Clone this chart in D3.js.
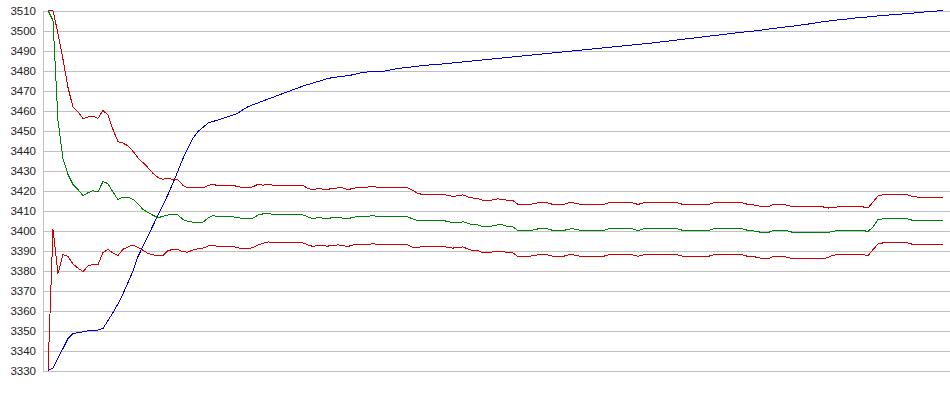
<!DOCTYPE html>
<html>
<head>
<meta charset="utf-8">
<script src="https://cdn.jsdelivr.net/npm/d3@7"></script>
<style>
  body { margin: 0; background: #fff; }
  svg { display: block; }
  .tick text { font-family: "Liberation Sans", Arial, sans-serif; font-size: 11.5px; fill: #222; }
  .grid line, .grid path { stroke: #c0c0c0; shape-rendering: crispEdges; }
  .series { fill: none; stroke-width: 1; shape-rendering: crispEdges; }
</style>
</head>
<body>
<svg id="chart" width="950" height="395"></svg>
<script>
// y axis ticks
var yTicks = [3330, 3340, 3350, 3360, 3370, 3380, 3390, 3400, 3410, 3420, 3430, 3440, 3450, 3460, 3470, 3480, 3490, 3500, 3510];

// one value per iteration (180 iterations)
var blueVals = [
 3330, 3331.2, 3336.2, 3341, 3346, 3348.4, 3349, 3349.3, 3349.8, 3350.2,
 3350.2, 3351, 3355, 3359, 3363.3, 3368.4, 3374, 3379.7, 3387, 3392.1,
 3397.3, 3402.5, 3407.6, 3412.8, 3418, 3423.7, 3429.9, 3436, 3441.3, 3446.2,
 3449.5, 3451.6, 3453.7, 3454.5, 3455.3, 3456.1, 3456.9, 3457.7, 3458.7, 3460.4,
 3461.9, 3462.9, 3463.8, 3464.8, 3465.7, 3466.6, 3467.6, 3468.5, 3469.4, 3470.4,
 3471.3, 3472.2, 3473, 3473.7, 3474.5, 3475.2, 3476, 3476.5, 3476.8, 3477.1,
 3477.4, 3477.9, 3478.5, 3479.1, 3479.3, 3479.3, 3479.4, 3479.5, 3480, 3480.6,
 3481, 3481.3, 3481.5, 3481.9, 3482.2, 3482.4, 3482.7, 3482.9, 3483.1, 3483.3,
 3483.5, 3483.8, 3484, 3484.3, 3484.5, 3484.8, 3485, 3485.3, 3485.5, 3485.8,
 3486, 3486.3, 3486.5, 3486.8, 3487, 3487.3, 3487.5, 3487.8, 3488, 3488.3,
 3488.5, 3488.8, 3489, 3489.3, 3489.5, 3489.8, 3490, 3490.3, 3490.5, 3490.8,
 3491, 3491.3, 3491.5, 3491.8, 3492, 3492.3, 3492.5, 3492.8, 3493, 3493.3,
 3493.5, 3493.8, 3494.1, 3494.4, 3494.7, 3495, 3495.3, 3495.6, 3495.9, 3496.2,
 3496.5, 3496.8, 3497.1, 3497.4, 3497.7, 3498, 3498.3, 3498.6, 3498.9, 3499.2,
 3499.5, 3499.7, 3500, 3500.3, 3500.7, 3501, 3501.3, 3501.6, 3501.9, 3502.2,
 3502.5, 3502.9, 3503.2, 3503.6, 3504, 3504.4, 3504.7, 3505, 3505.3, 3505.6,
 3505.8, 3506.1, 3506.4, 3506.6, 3506.8, 3507.1, 3507.3, 3507.5, 3507.7, 3507.9,
 3508.1, 3508.3, 3508.5, 3508.7, 3509, 3509.2, 3509.4, 3509.6, 3509.8, 3510
];

var greenVals = [
 3510, 3505, 3455, 3435.8, 3428, 3423, 3420.5, 3417.4, 3418.9, 3419.9,
 3419.3, 3424.5, 3423.4, 3419.2, 3415.4, 3416.7, 3416.7, 3415.6, 3413.4, 3410.5,
 3409, 3407.6, 3406.4, 3407.1, 3407.8, 3407.8, 3407.8, 3405.5, 3404.6, 3404.2,
 3404.2, 3404.2, 3406.2, 3407.6, 3406.8, 3406.8, 3406.8, 3406.8, 3406.6, 3405.8,
 3405.8, 3406.2, 3407.7, 3408.3, 3408.7, 3408, 3407.8, 3407.8, 3407.8, 3407.8,
 3407.8, 3407.8, 3406.8, 3405.8, 3406.5, 3406.2, 3406, 3406.5, 3406.6, 3406.2,
 3405.8, 3406.7, 3406.8, 3406.8, 3407, 3407.6, 3406.8, 3406.8, 3406.8, 3406.8,
 3406.8, 3406.8, 3406.8, 3405.7, 3405, 3405, 3405, 3405, 3405, 3405,
 3404.5, 3403.8, 3403.8, 3404.4, 3403.5, 3402.8, 3402.8, 3401.9, 3402, 3402.3,
 3402.8, 3402.8, 3401.8, 3401.8, 3400, 3399.8, 3399.8, 3400.2, 3400.8, 3400.8,
 3400.8, 3400, 3399.8, 3399.8, 3400.7, 3400.8, 3400.4, 3399.8, 3399.8, 3399.8,
 3399.8, 3399.8, 3400.8, 3400.8, 3400.8, 3400.8, 3400.8, 3400.8, 3399.9, 3400.8,
 3400.8, 3400.8, 3400.8, 3400.8, 3400.8, 3400.8, 3400.8, 3400, 3399.8, 3399.8,
 3399.8, 3399.8, 3399.8, 3400.8, 3400.8, 3400.8, 3400.8, 3400.8, 3400.8, 3400.8,
 3400, 3399.8, 3399.4, 3398.9, 3398.9, 3400, 3400, 3400, 3399.8, 3399,
 3399, 3399, 3399, 3399, 3399, 3399, 3399, 3399.6, 3400, 3400,
 3400, 3400, 3400, 3400, 3399.5, 3401.8, 3405.5, 3405.8, 3405.8, 3405.8,
 3405.8, 3405.8, 3405.8, 3405, 3404.8, 3404.8, 3404.8, 3404.8, 3404.8, 3404.8
];

var redHighVals = [
 3510, 3510, 3498.4, 3485.5, 3471.5, 3461.6, 3459.3, 3456, 3456.7, 3457.2,
 3456.1, 3460, 3457.8, 3450.5, 3444.4, 3443.7, 3442.3, 3439.6, 3436.3, 3433.9,
 3431.4, 3428.6, 3426.5, 3425.6, 3426.2, 3425.4, 3425.3, 3422.6, 3421.3, 3421.3,
 3421.3, 3421.3, 3422.6, 3423, 3422.5, 3422.5, 3422.5, 3422.5, 3422, 3421.3,
 3421.3, 3421.8, 3423.2, 3422.6, 3423.3, 3422.6, 3422.5, 3422.5, 3422.5, 3422.5,
 3422.5, 3422.5, 3421, 3420.4, 3421, 3420.7, 3420.6, 3421.1, 3421.3, 3421.3,
 3420.3, 3421.2, 3421.3, 3421.3, 3421.7, 3422.3, 3421.3, 3421.3, 3421.3, 3421.3,
 3421.3, 3421.3, 3421.3, 3420, 3418.5, 3418, 3418, 3418, 3418, 3418,
 3417.6, 3417, 3417.4, 3417.8, 3416.8, 3416.2, 3415.9, 3415.1, 3415, 3415.3,
 3415.8, 3415.6, 3415, 3415, 3413, 3412.8, 3412.8, 3413.3, 3413.8, 3413.8,
 3413.8, 3413, 3412.8, 3412.8, 3413.8, 3413.8, 3413.3, 3412.8, 3412.8, 3412.8,
 3412.8, 3412.8, 3413.8, 3413.8, 3413.8, 3413.8, 3413.8, 3413.8, 3413, 3413.8,
 3413.8, 3413.8, 3413.8, 3413.8, 3413.8, 3413.8, 3413.8, 3413, 3412.8, 3412.8,
 3412.8, 3412.8, 3412.8, 3413.8, 3413.8, 3413.8, 3413.8, 3413.8, 3413.8, 3413.8,
 3413, 3412.8, 3412.3, 3411.8, 3411.8, 3413, 3413, 3413, 3412.6, 3411.8,
 3411.8, 3411.8, 3411.8, 3411.8, 3411.8, 3411.8, 3411.2, 3411.6, 3411.8, 3411.8,
 3411.8, 3411.8, 3411.8, 3411.8, 3411.2, 3414.2, 3417.3, 3417.8, 3417.8, 3417.8,
 3417.8, 3417.8, 3417.8, 3416.9, 3416.7, 3416.7, 3416.7, 3416.7, 3416.7, 3416.7
];

var redLowVals = [
 3330, 3400.5, 3378.5, 3388, 3387, 3383.2, 3381.2, 3379.5, 3382.2, 3383,
 3383, 3389, 3390.5, 3388.7, 3387.5, 3390.6, 3391.8, 3392.8, 3391.5, 3390.1,
 3388.5, 3387.8, 3387.6, 3387.5, 3389.9, 3390.6, 3390.6, 3389.3, 3389.2, 3390.3,
 3390.9, 3391.2, 3392.2, 3392.7, 3392, 3392, 3392, 3392, 3391.3, 3391,
 3391, 3391.4, 3392.8, 3393.6, 3394.3, 3393.9, 3393.8, 3393.8, 3393.8, 3393.8,
 3393.8, 3393.8, 3392.8, 3392, 3392.6, 3392.3, 3392.2, 3392.6, 3392.8, 3392.4,
 3392, 3392.8, 3392.8, 3392.8, 3392.8, 3393.5, 3392.8, 3392.8, 3392.8, 3392.8,
 3392.8, 3392.8, 3392.8, 3391.6, 3391.6, 3392, 3392, 3392, 3392, 3392,
 3391.6, 3391.2, 3391.6, 3391.8, 3390.7, 3390, 3390, 3388.8, 3388.8, 3389.4,
 3389.7, 3389.5, 3388.8, 3388.8, 3387, 3387, 3387, 3387.4, 3387.8, 3387.8,
 3387.8, 3387.1, 3387, 3387, 3387.8, 3387.8, 3387.3, 3387, 3387, 3387,
 3387, 3387, 3387.8, 3387.8, 3387.8, 3387.8, 3387.8, 3387.8, 3387.1, 3387.8,
 3387.8, 3387.8, 3387.8, 3387.8, 3387.8, 3387.8, 3387.8, 3387.1, 3387, 3387,
 3387, 3387, 3387, 3387.8, 3387.8, 3387.8, 3387.8, 3387.8, 3387.8, 3387.8,
 3387, 3387, 3386.5, 3385.8, 3385.8, 3387, 3387, 3387, 3386.6, 3385.8,
 3385.8, 3385.8, 3385.8, 3385.8, 3385.8, 3385.8, 3386.6, 3387.6, 3388, 3388,
 3388, 3388, 3388, 3388, 3387.3, 3390.5, 3393.2, 3393.8, 3393.8, 3393.8,
 3393.8, 3393.8, 3393.8, 3393, 3392.8, 3392.8, 3392.8, 3392.8, 3392.8, 3392.8
];

var iterations = d3.range(blueVals.length);

var svg = d3.select("#chart");
var left = 42.5, right = 950;

var x = d3.scaleLinear().domain([0, iterations.length - 1]).range([48, 943]);
var y = d3.scaleLinear().domain([3330, 3510]).range([370.5, 10.5]);

// gridlines + labels
var grid = svg.append("g")
    .attr("class", "grid")
    .attr("transform", "translate(" + left + ",0)")
    .call(d3.axisLeft(y)
        .tickValues(yTicks)
        .tickFormat(d3.format("d"))
        .tickSizeInner(-(right - left))
        .tickSizeOuter(0)
        .tickPadding(6.5));
grid.selectAll(".tick line").attr("stroke", "#c0c0c0");
grid.select(".domain").attr("stroke", "#c0c0c0");

var line = d3.line()
    .x(function(d, i) { return x(iterations[i]); })
    .y(function(d) { return y(d); });

var series = [
  { vals: blueVals, color: "#0000cc" },
  { vals: redHighVals, color: "#cc0000" },
  { vals: greenVals, color: "#008000" },
  { vals: redLowVals, color: "#cc0000" }
];

svg.selectAll("path.series")
  .data(series)
  .enter().append("path")
  .attr("class", "series")
  .attr("stroke", function(d) { return d.color; })
  .attr("d", function(d) { return line(d.vals); });
</script>
</body>
</html>
